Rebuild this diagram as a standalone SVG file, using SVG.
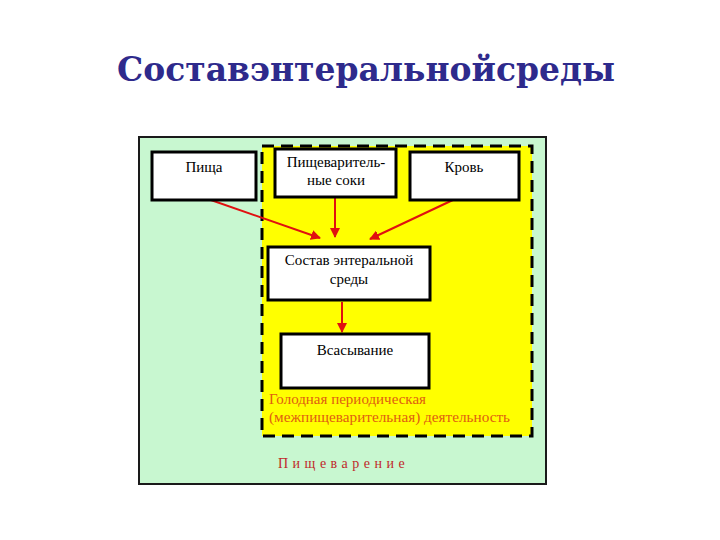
<svg xmlns="http://www.w3.org/2000/svg" width="720" height="540" viewBox="0 0 720 540">
<style>
.box{fill:#ffffff;stroke:#000000;stroke-width:3}
.t{font-family:"Liberation Serif",serif;font-size:15px;fill:#000000;text-anchor:middle}
.c{stroke:#e01010;stroke-width:2;fill:none;marker-end:url(#ah)}
.o{font-family:"Liberation Serif",serif;font-size:15px;fill:#e06010}
</style>
<defs>
<marker id="ah" viewBox="0 0 10 10" refX="9" refY="5" markerWidth="5" markerHeight="5" orient="auto" markerUnits="strokeWidth">
<path d="M0,0 L10,5 L0,10 z" fill="#e01010"/>
</marker>
</defs>
<rect width="720" height="540" fill="#ffffff"/>
<text x="366" y="81" font-family="'DejaVu Serif','Liberation Serif',serif" font-weight="bold" font-size="34" fill="#2e2a8c" text-anchor="middle" textLength="498" lengthAdjust="spacingAndGlyphs">Составэнтеральнойсреды</text>
<g id="panel">
<rect x="139" y="137" width="407" height="347" fill="#c8f7d0" stroke="#1a1a1a" stroke-width="2"/>
<rect x="262" y="146" width="270" height="290" fill="#ffff00" stroke="#000000" stroke-width="3" stroke-dasharray="12,7"/>
<text class="o" x="269" y="404">Голодная периодическая</text>
<text class="o" x="269" y="422" textLength="241" lengthAdjust="spacingAndGlyphs">(межпищеварительная) деятельность</text>
<text x="278" y="468" font-family="'Liberation Serif',serif" font-size="14" fill="#c0282a" letter-spacing="4.5">Пищеварение</text>
</g>
<g id="connectors">
<line class="c" x1="208" y1="199" x2="320" y2="238"/>
<line class="c" x1="335" y1="198" x2="335" y2="237"/>
<line class="c" x1="455" y1="199" x2="370" y2="239"/>
<line class="c" x1="342" y1="302" x2="342" y2="332"/>
</g>
<g id="pishcha">
<rect class="box" x="152" y="152" width="104" height="48"/>
<text class="t" x="204" y="172">Пища</text>
</g>
<g id="soki">
<rect class="box" x="275" y="149" width="121" height="48"/>
<text class="t" x="336" y="167">Пищеваритель-</text>
<text class="t" x="336" y="185">ные соки</text>
</g>
<g id="krov">
<rect class="box" x="410" y="152" width="109" height="48"/>
<text class="t" x="464" y="172">Кровь</text>
</g>
<g id="sostav">
<rect class="box" x="268" y="247" width="162" height="53"/>
<text class="t" x="349" y="265">Состав энтеральной</text>
<text class="t" x="349" y="284">среды</text>
</g>
<g id="vsasyvanie">
<rect class="box" x="281" y="334" width="148" height="54"/>
<text class="t" x="355" y="355">Всасывание</text>
</g>
</svg>
